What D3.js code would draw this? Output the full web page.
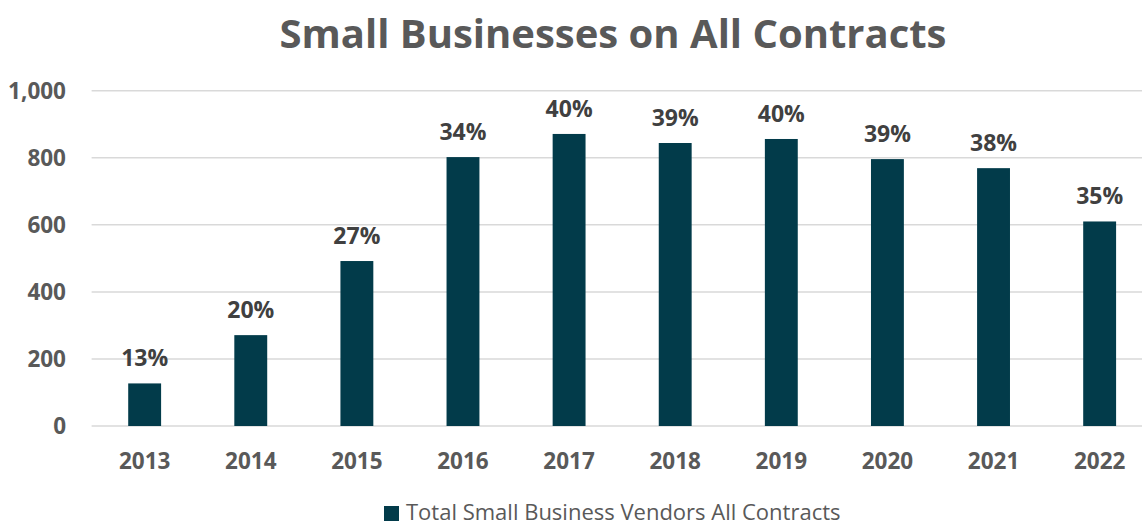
<!DOCTYPE html>
<html>
<head>
<meta charset="utf-8">
<script src="https://cdn.jsdelivr.net/npm/d3@7"></script>
<style>
  html, body { margin: 0; padding: 0; background: #fff; }
  svg { display: block; font-family: "Open Sans", "Noto Sans", sans-serif; }
</style>
</head>
<body>
<svg id="chart"></svg>
<script>
var years = ["2013", "2014", "2015", "2016", "2017", "2018", "2019", "2020", "2021", "2022"];
var vendors = [127, 271, 492, 802, 871, 844, 856, 796, 769, 610];
var shares = ["13%", "20%", "27%", "34%", "40%", "39%", "40%", "39%", "38%", "35%"];
var yTicks = [0, 200, 400, 600, 800, 1000];
var seriesName = "Total Small Business Vendors All Contracts";

var width = 1142, height = 527;
var margins = { top: 90.7, bottom: 101, left: 91.6 };
var barColor = "#023b4a";

renderChart();

function renderChart(){
    var chart = d3.select("#chart")
        .attr("width", width)
        .attr("height", height);

    var xScale = d3.scaleBand()
        .domain(years)
        .range([margins.left, 1152.7]);
    var yScale = d3.scaleLinear()
        .domain([0, 1000])
        .range([height - margins.bottom, margins.top]);

    attachGrid(chart, xScale, yScale);
    attachBars(chart, xScale, yScale);
    attachAxes(chart, xScale, yScale);
    attachLabels(chart, xScale, yScale);
    attachTitle(chart);
    attachLegend(chart);
}

function attachGrid(chart, xScale, yScale){
    chart.append("g")
        .selectAll("line")
        .data(yTicks)
        .enter()
        .append("line")
        .attr("x1", xScale.range()[0])
        .attr("x2", width)
        .attr("y1", function(d){ return yScale(d); })
        .attr("y2", function(d){ return yScale(d); })
        .attr("stroke", "#d9d9d9")
        .attr("stroke-width", 1.5);
}

function attachBars(chart, xScale, yScale){
    var barWidth = xScale.bandwidth() * 0.31;
    chart.append("g")
        .selectAll("rect")
        .data(vendors)
        .enter()
        .append("rect")
        .attr("x", function(d, i){ return xScale(years[i]) + (xScale.bandwidth() - barWidth) / 2; })
        .attr("y", function(d){ return yScale(d); })
        .attr("width", barWidth)
        .attr("height", function(d){ return yScale(0) - yScale(d); })
        .attr("fill", barColor);
}

function attachAxes(chart, xScale, yScale){
    var yAxis = chart.append("g")
        .attr("transform", "translate(66, 0)")
        .call(d3.axisLeft(yScale).tickValues(yTicks).tickSize(0).tickPadding(0).tickFormat(d3.format(",")));
    var xAxis = chart.append("g")
        .attr("transform", `translate(0, ${yScale(0)})`)
        .call(d3.axisBottom(xScale).tickSize(0).tickPadding(27));
    [yAxis, xAxis].forEach(function(axis){
        axis.select(".domain").remove();
        axis.selectAll("text")
            .attr("fill", "#595959")
            .style("font-size", "22.5px")
            .style("font-weight", "bold")
            .style("font-family", "'Open Sans', sans-serif");
    });
    yAxis.selectAll("text").attr("dy", "0.35em");
    xAxis.selectAll("text").attr("dy", "0.71em");
}

function attachLabels(chart, xScale, yScale){
    chart.append("g")
        .selectAll("text")
        .data(shares)
        .enter()
        .append("text")
        .attr("x", function(d, i){ return xScale(years[i]) + xScale.bandwidth() / 2; })
        .attr("y", function(d, i){ return yScale(vendors[i]) - 17; })
        .attr("text-anchor", "middle")
        .attr("fill", "#404040")
        .style("font-size", "23px")
        .style("font-weight", "bold")
        .text(function(d){ return d; });
}

function attachTitle(chart){
    chart.append("text")
        .attr("x", 613)
        .attr("y", 48)
        .attr("text-anchor", "middle")
        .attr("fill", "#595959")
        .style("font-size", "40px")
        .style("font-weight", "bold")
        .text("Small Businesses on All Contracts");
}

function attachLegend(chart){
    // sits right at the bottom edge, as in the original
    var legend = chart.append("g").attr("transform", "translate(384, 506)");
    legend.append("rect")
        .attr("width", 15)
        .attr("height", 15)
        .attr("fill", barColor);
    legend.append("text")
        .attr("x", 22)
        .attr("y", 14)
        .attr("fill", "#595959")
        .style("font-size", "22px")
        .text(seriesName);
}
</script>
</body>
</html>
